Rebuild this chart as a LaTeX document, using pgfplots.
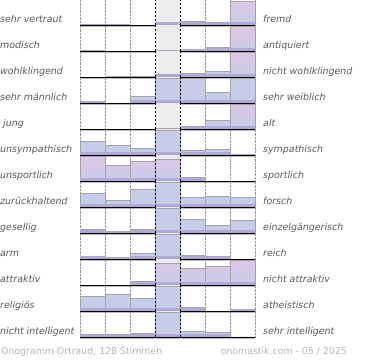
\documentclass[border=0pt]{standalone}
\usepackage{fontspec}
\setmainfont{DejaVu Sans}
\usepackage{pgfplots}
\pgfplotsset{compat=1.18}
\definecolor{lbl}{HTML}{5A5A5A}
\definecolor{foot}{HTML}{B4B4B4}
\definecolor{colbg}{HTML}{ECECEF}
\definecolor{barblue}{HTML}{C5CDE9}
\definecolor{barpink}{HTML}{DEC6E5}
\definecolor{barpurp}{HTML}{AFA5D8}
\definecolor{baredge}{HTML}{A4A4A4}
\pgfplotsset{rowstyle/.style={
  width=175bp, height=26bp, scale only axis, anchor=south west,
  xmin=0, xmax=7, ymin=0, ymax=26, clip=false,
  axis line style={draw=none}, xtick={0,1,2,5,6,7}, xticklabels={}, ytick=\empty,
  major tick length=0pt,
  xmajorgrids, major grid style={densely dotted, gray!85, line width=0.5bp},
  ybar, bar width=1, bar shift=0pt,
},
bandstyle/.style={
  width=175bp, height=3bp, scale only axis, anchor=south west,
  xmin=0, xmax=7, ymin=0, ymax=3, clip=true, hide axis,
  ybar, bar width=1, bar shift=0pt,
}}
\newcommand{\onerow}[5]{%
\begin{axis}[rowstyle, at={(0bp,-#1*26bp)}]
\fill[colbg] (axis cs:3,0) rectangle (axis cs:4,26);
\addplot[draw=baredge, line width=0.6bp, fill=barblue] coordinates {#4};
\addplot[draw=baredge, line width=0.6bp, top color=barpink, bottom color=barblue] coordinates {#5};
\end{axis}
\begin{axis}[bandstyle, at={(0bp,-#1*26bp)}]
\addplot[draw=none, top color=barblue, bottom color=barpurp] coordinates {#4};
\end{axis}
\draw[black, dash pattern=on 2.5bp off 1.5bp, line width=0.8bp] (75bp,-#1*26bp) -- ++(0,26bp);
\draw[black, dash pattern=on 2.5bp off 1.5bp, line width=0.8bp] (100bp,-#1*26bp) -- ++(0,26bp);
\draw[gray!50, line width=1bp] (0bp,-#1*26bp-1.3bp) -- ++(175bp,0);
\draw[black, line width=1.2bp] (0bp,-#1*26bp) -- ++(175bp,0);
\node[anchor=base west, inner sep=0pt, text=lbl, font=\itshape\fontsize{9.5}{11}\selectfont] at (-80bp,-#1*26bp+2.5bp) {#2};
\node[anchor=base west, inner sep=0pt, text=lbl, font=\itshape\fontsize{9.5}{11}\selectfont] at (183bp,-#1*26bp+2.5bp) {#3};
}
\begin{document}
\begin{tikzpicture}
\useasboundingbox (-80bp,25.3bp) rectangle (290bp,-334.7bp);
\onerow{0}{sehr vertraut}{fremd}{(0.5,0.6) (1.5,0.6) (2.5,0) (3.5,3) (4.5,4) (5.5,2.6) (6.5,24.3)}{(6.5,24.3)}
\onerow{1}{modisch}{antiquiert}{(0.5,0.7) (1.5,0) (2.5,0) (3.5,0.7) (4.5,2.3) (5.5,4) (6.5,24.6)}{(6.5,24.6)}
\onerow{2}{wohlklingend}{nicht wohlklingend}{(0.5,0) (1.5,0.7) (2.5,0.7) (3.5,2.6) (4.5,4) (5.5,6.3) (6.5,25)}{(6.5,25)}
\onerow{3}{sehr männlich}{sehr weiblich}{(0.5,2) (1.5,0) (2.5,6.7) (3.5,25) (4.5,25) (5.5,10.8) (6.5,25)}{}
\onerow{4}{\ jung}{alt}{(0.5,0) (1.5,0) (2.5,0) (3.5,0.6) (4.5,2.6) (5.5,9.3) (6.5,25)}{(6.5,25)}
\onerow{5}{unsympathisch}{sympathisch}{(0.5,13.6) (1.5,9.6) (2.5,7) (3.5,25) (4.5,4.6) (5.5,6) (6.5,1.3)}{}
\onerow{6}{unsportlich}{sportlich}{(0.5,24.6) (1.5,16) (2.5,19.6) (3.5,22.3) (4.5,4) (5.5,0) (6.5,0)}{(0.5,24.6) (1.5,16) (2.5,19.6) (3.5,22.3)}
\onerow{7}{zurückhaltend}{forsch}{(0.5,13.6) (1.5,6.6) (2.5,17.6) (3.5,25) (4.5,9.6) (5.5,11.3) (6.5,9.6)}{}
\onerow{8}{gesellig}{einzelgängerisch}{(0.5,3.6) (1.5,2) (2.5,3.6) (3.5,25) (4.5,14) (5.5,7.6) (6.5,12.6)}{}
\onerow{9}{arm}{reich}{(0.5,3.5) (1.5,2) (2.5,6) (3.5,25) (4.5,4) (5.5,2.6) (6.5,0)}{}
\onerow{10}{attraktiv}{nicht attraktiv}{(0.5,0) (1.5,0) (2.5,4) (3.5,22.3) (4.5,17) (5.5,19.3) (6.5,25)}{(3.5,22.3) (4.5,17) (5.5,19.3) (6.5,25)}
\onerow{11}{religiös}{atheistisch}{(0.5,14.6) (1.5,17) (2.5,13) (3.5,25) (4.5,4.3) (5.5,0) (6.5,2)}{}
\onerow{12}{nicht intelligent}{sehr intelligent}{(0.5,2.6) (1.5,2.6) (2.5,4) (3.5,25) (4.5,5.6) (5.5,4.6) (6.5,0.5)}{}
\node[anchor=base west, inner sep=0pt, text=foot, font=\fontsize{9.4}{11}\selectfont] at (-79bp,-329.2bp) {Onogramm Ortraud, 128 Stimmen};
\node[anchor=base east, inner sep=0pt, text=foot, font=\fontsize{9.4}{11}\selectfont] at (267bp,-329.2bp) {onomastik.com - 05 / 2025};
\end{tikzpicture}
\end{document}
